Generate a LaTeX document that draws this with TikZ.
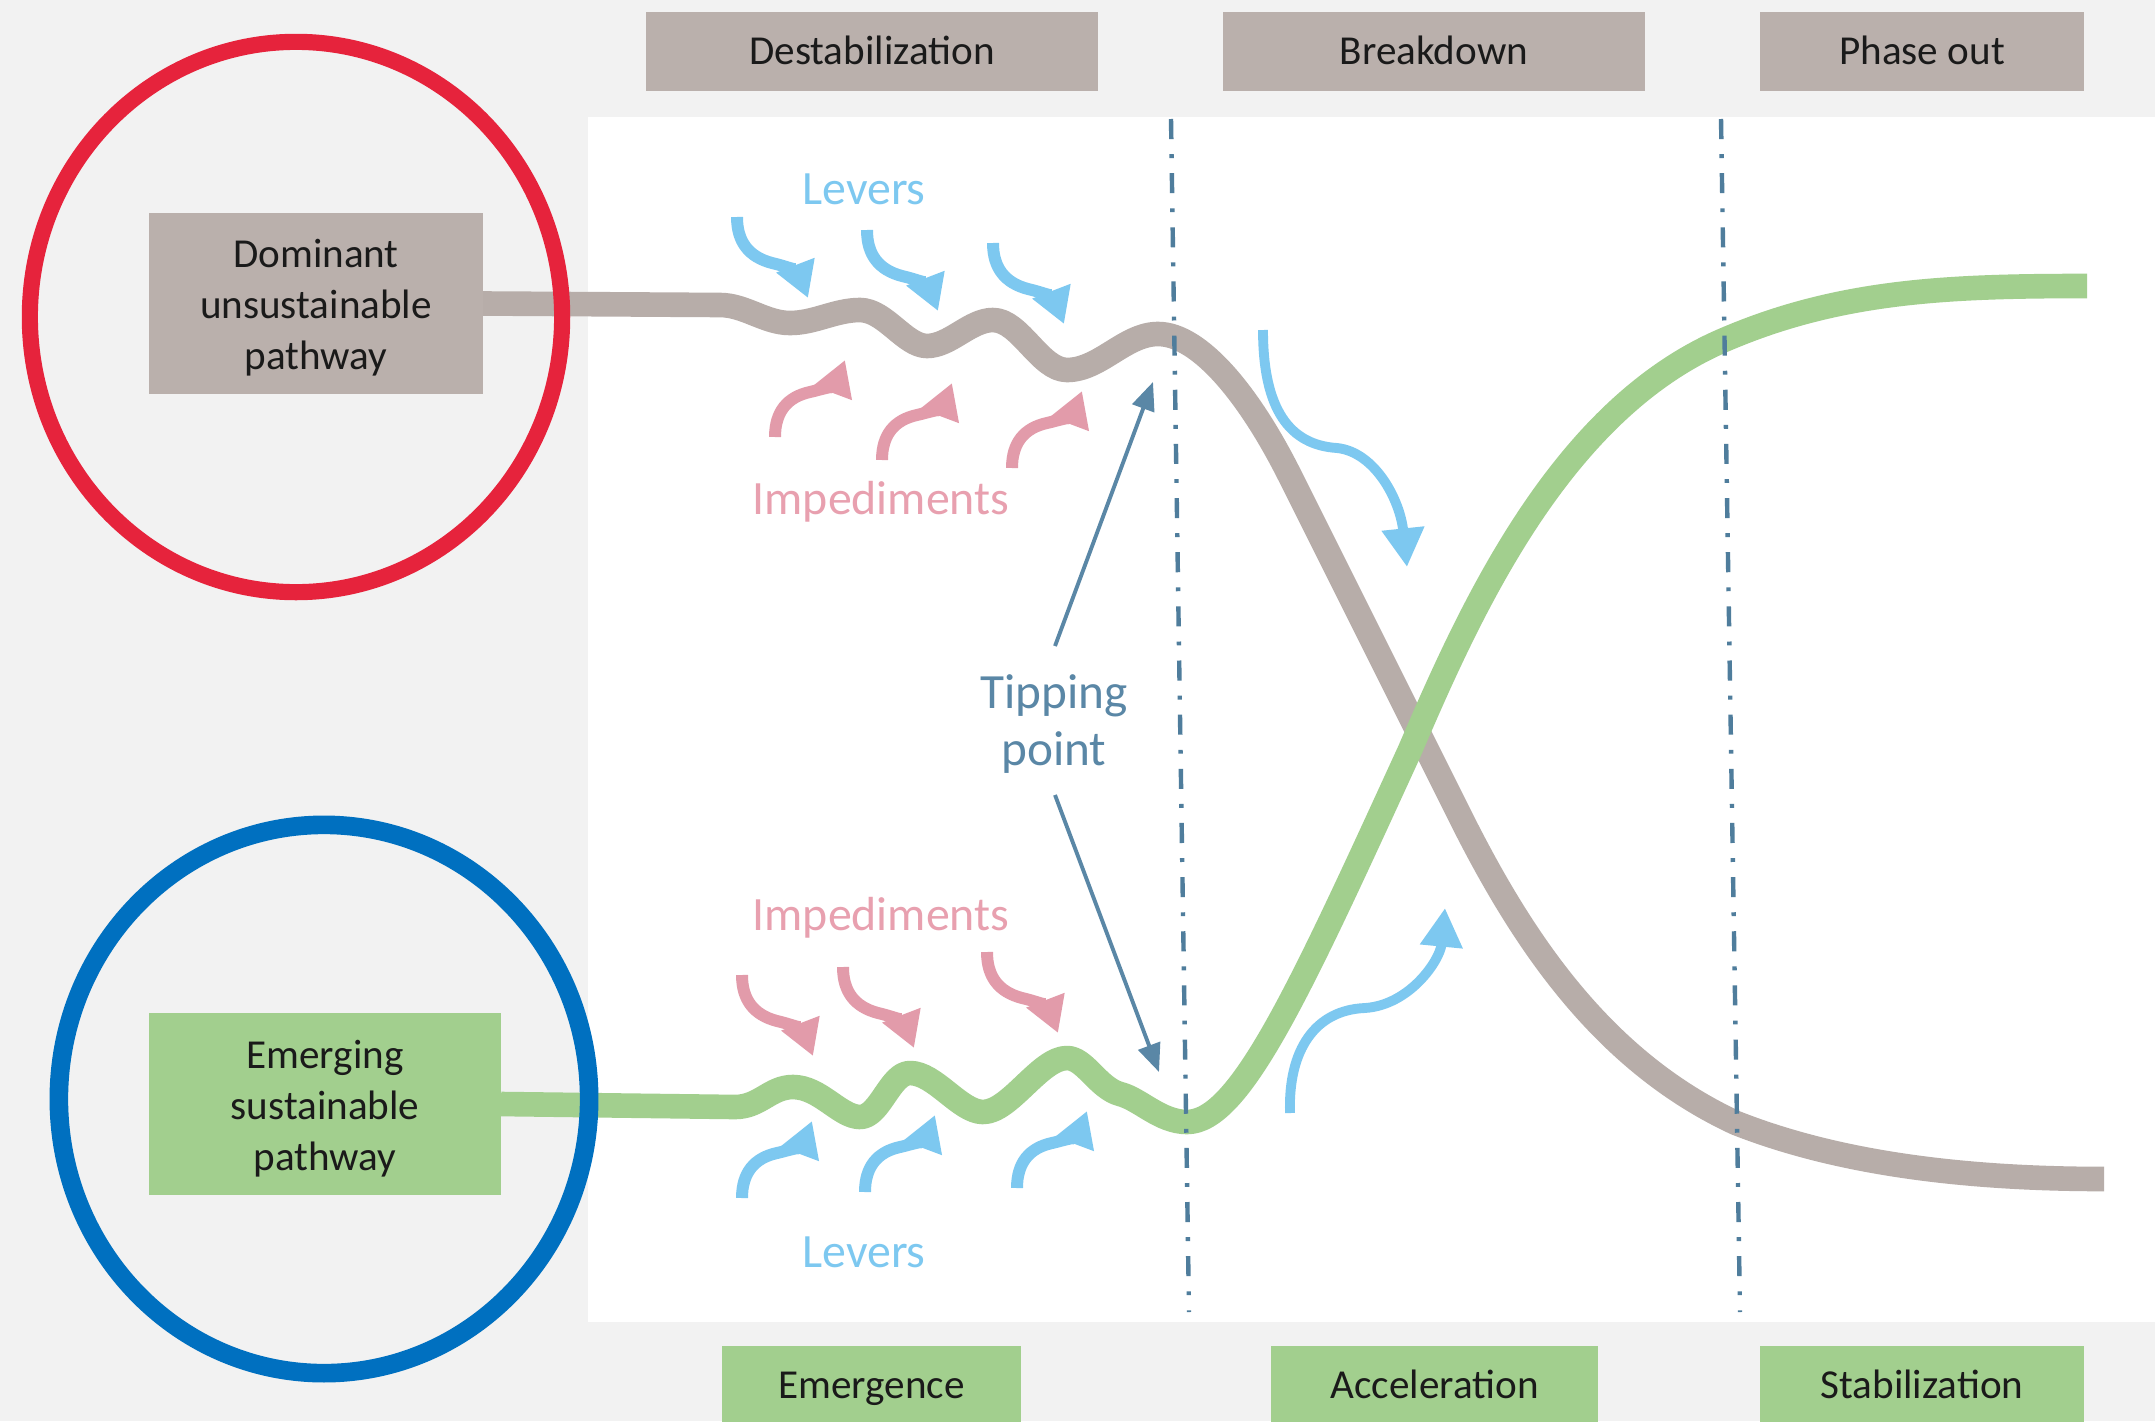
\documentclass[tikz,border=0pt]{standalone}
\usepackage{fontspec}
\setmainfont{Carlito}
\usetikzlibrary{arrows.meta}
\definecolor{bgc}{HTML}{F2F2F2}
\definecolor{boxgray}{HTML}{BAB0AC}
\definecolor{curvegray}{HTML}{B7ADA9}
\definecolor{grn}{HTML}{A2CF8E}
\definecolor{redring}{HTML}{E6233C}
\definecolor{bluering}{HTML}{0070C0}
\definecolor{lblue}{HTML}{7DC8F0}
\definecolor{pinkarr}{HTML}{E29BAA}
\definecolor{pinktxt}{HTML}{E8A0AF}
\definecolor{steel}{HTML}{5A87A6}
\definecolor{dashc}{HTML}{4F7D9C}
\definecolor{txtc}{HTML}{1A1A1A}
\newcommand\mydnarrow[3]{\begin{scope}[shift={(#1,#2)}]
  \draw[smallarr,#3] (0,0) .. controls (0,25) and (12,40) .. (35,46) .. controls (52,50) and (61,55) .. (71,81);
\end{scope}}
\newcommand\myuparrow[3]{\begin{scope}[shift={(#1,#2)}]
  \draw[smallarr,#3] (0,0) .. controls (0,-25) and (12,-40) .. (35,-45) .. controls (52,-49) and (61,-53) .. (70,-77);
\end{scope}}
\begin{document}
\begin{tikzpicture}[x=0.01cm,y=-0.01cm,
  phasebox/.style={inner sep=0pt,outer sep=0pt,minimum height=0.79cm,text=txtc,
    font=\fontsize{11.7pt}{14.1pt}\selectfont,text height=7.5pt,text depth=0pt},
  pathbox/.style={inner sep=0pt,outer sep=0pt},
  pathtxt/.style={inner sep=0pt,align=center,text=txtc,
    font=\fontsize{11.7pt}{14.5pt}\selectfont},
  lbl/.style={inner sep=0pt,font=\fontsize{13.6pt}{16pt}\selectfont},
  maincurve/.style={line width=7pt,line cap=butt,line join=round},
  smallarr/.style={line width=3.4pt,-{Triangle[width=11pt,length=10pt]}},
  bigarr/.style={line width=2.8pt,lblue,-{Triangle[width=11.5pt,length=11pt]}},
  tiparr/.style={line width=1.1pt,steel,-{Triangle[width=6.5pt,length=8pt]}},
  phaseline/.style={line width=1.25pt,dashc,dash pattern=on 5.7pt off 4.3pt on 1.1pt off 4.3pt}
]
\useasboundingbox (0,0) rectangle (2155,1421);
\fill[bgc] (0,0) rectangle (2155,1421);
\fill[white] (588,117) rectangle (2155,1322);

% phase boxes
\node[phasebox,fill=boxgray,minimum width=4.52cm] (destab) at (872,51.5) {Destabilization};
\node[phasebox,fill=boxgray,minimum width=4.22cm] (brk) at (1434,51.5) {Breakdown};
\node[phasebox,fill=boxgray,minimum width=3.24cm] (phout) at (1922,51.5) {Phase out};
\node[phasebox,fill=grn,minimum width=2.99cm] (emer) at (871.5,1385) {Emergence};
\node[phasebox,fill=grn,minimum width=3.27cm] (accel) at (1434.5,1385) {Acceleration};
\node[phasebox,fill=grn,minimum width=3.24cm] (stab) at (1922,1385) {Stabilization};

% pathway boxes
\node[pathbox,fill=boxgray,minimum width=3.34cm,minimum height=1.81cm] (dom) at (316,303.5) {};
\node[pathtxt] (domtxt) at (316,308) {Dominant\\unsustainable\\pathway};
\node[pathbox,fill=grn,minimum width=3.52cm,minimum height=1.82cm] (emg) at (325,1104) {};
\node[pathtxt] (emgtxt) at (325,1108.5) {Emerging\\sustainable\\pathway};

% main curves
\draw[maincurve,curvegray] (dom.east) -- (720,305)
  .. controls (745,305) and (765,323) .. (790,323)
  .. controls (815,323) and (835,310) .. (860,310)
  .. controls (885,310) and (905,346) .. (927,346)
  .. controls (950,346) and (970,320) .. (993,320)
  .. controls (1020,320) and (1040,370) .. (1067,370)
  .. controls (1100,370) and (1125,334) .. (1158,334)
  .. controls (1200,334) and (1250,396) .. (1290,476)
  -- (1460,816)
  .. controls (1520,936) and (1600,1060) .. (1736,1123)
  .. controls (1830,1160) and (1950,1179) .. (2104,1179);
\draw[maincurve,grn] (emg.east) -- (735,1107)
  .. controls (760,1107) and (770,1087) .. (793,1087)
  .. controls (820,1087) and (840,1117) .. (860,1117)
  .. controls (880,1117) and (890,1073) .. (910,1073)
  .. controls (935,1073) and (960,1112) .. (983,1112)
  .. controls (1010,1112) and (1040,1058) .. (1067,1058)
  .. controls (1085,1058) and (1098,1088) .. (1120,1094)
  .. controls (1140,1099) and (1160,1122) .. (1187,1122)
  .. controls (1240,1122) and (1300,990) .. (1410,750)
  .. controls (1470,610) and (1560,410) .. (1724,340)
  .. controls (1840,290) and (1950,286) .. (2087,286);

% phase lines
\coordinate (l1a) at (1171,119); \coordinate (l1b) at (1189,1312);
\coordinate (l2a) at (1721,119); \coordinate (l2b) at (1740,1312);
\draw[phaseline] (l1a) -- (l1b);
\draw[phaseline] (l2a) -- (l2b);

% small arrows
\mydnarrow{737}{217}{lblue}
\mydnarrow{867}{230}{lblue}
\mydnarrow{993}{243}{lblue}
\myuparrow{775}{437}{pinkarr}
\myuparrow{882}{460}{pinkarr}
\myuparrow{1012}{468}{pinkarr}
\mydnarrow{742}{975}{pinkarr}
\mydnarrow{843}{967}{pinkarr}
\mydnarrow{987}{952}{pinkarr}
\myuparrow{742}{1198}{lblue}
\myuparrow{865}{1192}{lblue}
\myuparrow{1017}{1188}{lblue}

% big arrows
\draw[bigarr] (1263,330) .. controls (1263,410) and (1290,445) .. (1337,448) .. controls (1375,452) and (1400,500) .. (1407,567);
\draw[bigarr] (1290,1113) .. controls (1288,1050) and (1315,1010) .. (1365,1008) .. controls (1410,1005) and (1440,960) .. (1445,908);

% labels
\node[lbl,text=lblue,anchor=base] (levT) at (864,204) {Levers};
\node[lbl,text=pinktxt,anchor=base] (impT) at (881,514) {Impediments};
\node[lbl,text=pinktxt,anchor=base] (impB) at (881,930) {Impediments};
\node[lbl,text=lblue,anchor=base] (levB) at (864,1267) {Levers};
\node[lbl,text=steel,align=center,font=\fontsize{14pt}{16pt}\selectfont] (tp) at (1054,724) {Tipping\\point};

% tipping arrows
\coordinate (tpU) at (1055,646); \coordinate (tipU) at (1153,382);
\coordinate (tpL) at (1055,795); \coordinate (tipL) at (1159,1072);
\draw[tiparr] (tpU) -- (tipU);
\draw[tiparr] (tpL) -- (tipL);

% rings
\draw[redring,line width=4.6pt] (296,317) ellipse [x radius=2.66cm,y radius=2.75cm];
\draw[bluering,line width=5.3pt] (324,1099) ellipse [x radius=2.65cm,y radius=2.74cm];
\end{tikzpicture}
\end{document}
